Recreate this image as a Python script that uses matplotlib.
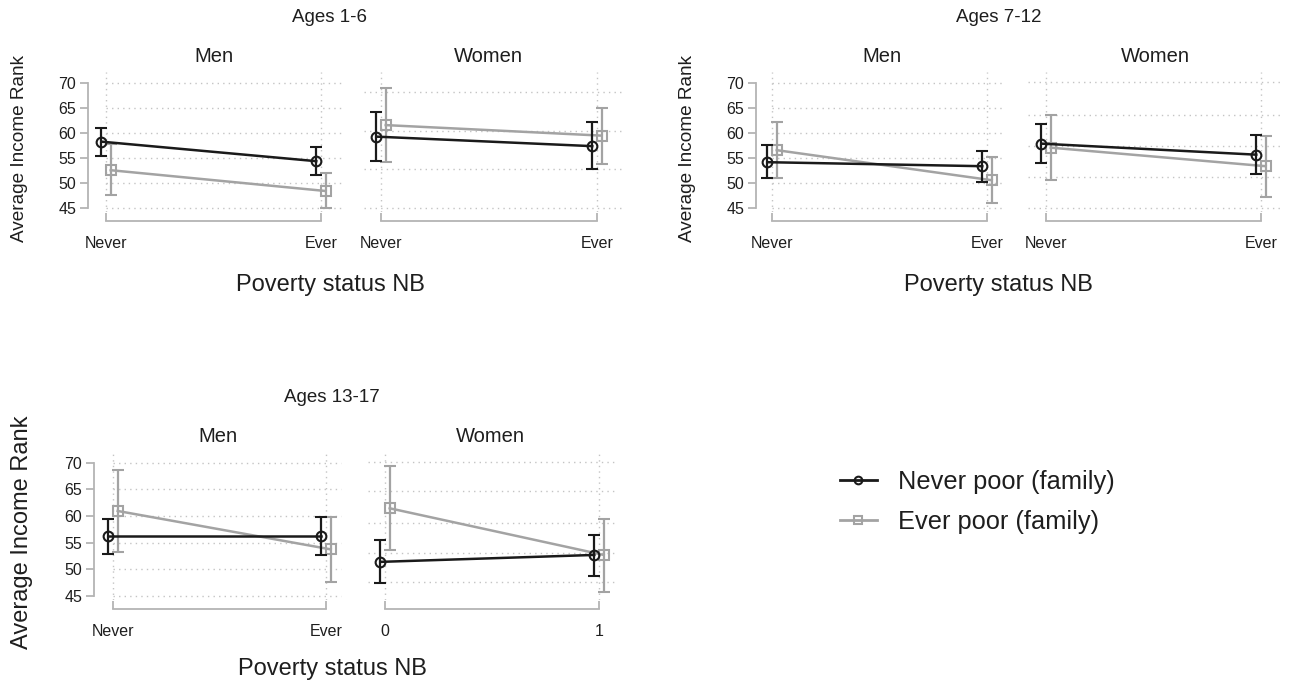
import matplotlib
matplotlib.use('Agg')
import matplotlib.pyplot as plt
from matplotlib.lines import Line2D

plt.rcParams['font.family'] = ['Liberation Sans', 'DejaVu Sans']

# values, one entry per age group, [Never, Ever]
age_groups = ['Ages 1-6', 'Ages 7-12', 'Ages 13-17']
never_men = [[58.3, 54.4], [54.2, 53.4], [56.2, 56.2]]
never_men_lo = [[55.4, 51.6], [51.0, 50.3], [52.9, 52.6]]
never_men_hi = [[61.1, 57.3], [57.6, 56.5], [59.4, 59.75]]
ever_men = [[52.6, 48.45], [56.6, 50.6], [60.95, 53.75]]
ever_men_lo = [[47.65, 45.0], [51.1, 46.0], [53.3, 47.7]]
ever_men_hi = [[57.8, 52.0], [62.3, 55.3], [68.6, 59.9]]
never_women = [[59.3, 57.4], [57.9, 55.7], [51.4, 52.7]]
never_women_lo = [[54.4, 52.85], [54.1, 51.8], [47.4, 48.75]]
never_women_hi = [[64.2, 62.2], [61.8, 59.7], [55.5, 56.45]]
ever_women = [[61.6, 59.5], [57.1, 53.4], [61.45, 52.7]]
ever_women_lo = [[54.2, 53.85], [50.6, 47.3], [53.6, 45.75]]
ever_women_hi = [[68.95, 65.1], [63.6, 59.4], [69.4, 59.45]]

men_ticklabels = ['Never', 'Ever']
women_ticklabels = [['Never', 'Ever'], ['Never', 'Ever'], ['0', '1']]
y_ticks = [45, 50, 55, 60, 65, 70]
# the women panels keep their own (unlabelled) grid
women_grid = [[45.1, 52.85, 60.5, 68.15],
              [45.0, 51.2, 57.4, 63.6, 70.2],
              [47.6, 53.1, 58.75, 64.6, 70.2]]
series_labels = ['Never poor (family)', 'Ever poor (family)']

BLACK = '#1a1a1a'
GRAY = '#a3a3a3'
SPINE = '#b4b4b4'
GRID = '#c4c4c4'
TEXT = '#1e1e1e'

W, H, DPI = 1295, 686, 100

# pixel layout of the three blocks
layout = [
    dict(top=72, bottom=212, y70=83, y45=208.3,
         men=(88, 342), women=(364, 622), men_x=(106, 321), women_x=(381, 597),
         title=(330, 18), sub_y=57, men_t=214, women_t=488,
         xlab=(330, 285), ylab=(20, 148), ylab_size=13.7),
    dict(top=72, bottom=212, y70=83, y45=208.3,
         men=(756, 1005), women=(1028, 1282), men_x=(772, 987), women_x=(1046, 1261),
         title=(999, 18), sub_y=57, men_t=882, women_t=1155,
         xlab=(998, 285), ylab=(688, 148), ylab_size=13.7),
    dict(top=452, bottom=600, y70=462.7, y45=596,
         men=(94, 341), women=(368, 616), men_x=(113, 326), women_x=(385, 599),
         title=(332, 397), sub_y=436, men_t=218, women_t=490,
         xlab=(332, 669), ylab=(22, 532), ylab_size=17),
]


def fbox(left, top, right, bottom):
    return [left / W, 1 - bottom / H, (right - left) / W, (bottom - top) / H]


def px2y(p, lay):
    return 45 + (lay['y45'] - p) / (lay['y45'] - lay['y70']) * 25


def draw_series(ax, mean, lo, hi, color, marker, dx, z):
    x = [0 + dx, 1 + dx]
    err = [[m - l for m, l in zip(mean, lo)], [h - m for m, h in zip(mean, hi)]]
    ax.errorbar(x, mean, yerr=err, color=color, lw=1.8, elinewidth=1.6,
                capsize=4, capthick=1.6, marker=marker, ms=7, mfc='none',
                mec=color, mew=1.5, zorder=z)


def make_panel(fig, lay, side, gi):
    left, right = lay[side]
    ax = fig.add_axes(fbox(left, lay['top'], right, lay['bottom']))
    p0, p1 = lay[side + '_x']
    ax.set_xlim((left - p0) / (p1 - p0), (right - p0) / (p1 - p0))
    ax.set_ylim(px2y(lay['bottom'], lay), px2y(lay['top'], lay))
    for s in ['top', 'right']:
        ax.spines[s].set_visible(False)

    # x axis drawn as a bracket below the plot
    ax.spines['bottom'].set_position(('outward', 6.3))
    ax.spines['bottom'].set_bounds(0, 1)
    ax.spines['bottom'].set_color(SPINE)
    ax.spines['bottom'].set_linewidth(1.3)
    ax.set_xticks([0, 1])
    ax.set_xticklabels(men_ticklabels if side == 'men' else women_ticklabels[gi])
    ax.tick_params(axis='x', direction='in', length=6, width=1.3, color=SPINE,
                   labelsize=11.5, labelcolor=TEXT, pad=11)

    if side == 'men':
        ax.spines['left'].set_bounds(45, 70)
        ax.spines['left'].set_color(SPINE)
        ax.spines['left'].set_linewidth(1.3)
        ax.set_yticks(y_ticks)
        ax.tick_params(axis='y', direction='out', length=6, width=1.3, color=SPINE,
                       labelsize=11.5, labelcolor=TEXT, pad=2.5)
        grid_y = y_ticks
    else:
        ax.spines['left'].set_visible(False)
        ax.set_yticks([])
        grid_y = women_grid[gi]

    x_lo, x_hi = ax.get_xlim()
    y_lo, y_hi = ax.get_ylim()
    for gy in grid_y:
        ax.plot([0 if side == 'men' else x_lo, x_hi], [gy, gy], color=GRID, lw=1,
                ls=(0, (1, 3)), zorder=0, clip_on=False)
    for gx in [0, 1]:
        ax.plot([gx, gx], [y_lo, y_hi], color=GRID, lw=1, ls=(0, (1, 3)), zorder=0)
    ax.patch.set_alpha(0)
    return ax


fig = plt.figure(figsize=(W / DPI, H / DPI), dpi=DPI)

for gi, lay in enumerate(layout):
    ax_m = make_panel(fig, lay, 'men', gi)
    draw_series(ax_m, ever_men[gi], ever_men_lo[gi], ever_men_hi[gi], GRAY, 's', 0.022, 3)
    draw_series(ax_m, never_men[gi], never_men_lo[gi], never_men_hi[gi], BLACK, 'o', -0.022, 4)

    ax_w = make_panel(fig, lay, 'women', gi)
    draw_series(ax_w, ever_women[gi], ever_women_lo[gi], ever_women_hi[gi], GRAY, 's', 0.022, 3)
    draw_series(ax_w, never_women[gi], never_women_lo[gi], never_women_hi[gi], BLACK, 'o', -0.022, 4)

    fig.text(lay['title'][0] / W, 1 - lay['title'][1] / H, age_groups[gi],
             ha='center', va='center', fontsize=13.5, color=TEXT)
    fig.text(lay['men_t'] / W, 1 - lay['sub_y'] / H, 'Men',
             ha='center', va='center', fontsize=14.5, color=TEXT)
    fig.text(lay['women_t'] / W, 1 - lay['sub_y'] / H, 'Women',
             ha='center', va='center', fontsize=14.5, color=TEXT)
    fig.text(lay['xlab'][0] / W, 1 - lay['xlab'][1] / H, 'Poverty status NB',
             ha='center', va='center', fontsize=17, color=TEXT)
    fig.text(lay['ylab'][0] / W, 1 - lay['ylab'][1] / H, 'Average Income Rank',
             ha='center', va='center', rotation=90, fontsize=lay['ylab_size'], color=TEXT)

handles = [
    Line2D([], [], color=BLACK, lw=2, marker='o', ms=5.5, mfc='none', mew=1.5),
    Line2D([], [], color=GRAY, lw=2, marker='s', ms=5.5, mfc='none', mew=1.5),
]
fig.legend(handles, series_labels, loc='center left',
           bbox_to_anchor=(840 / W, 1 - 502 / H), frameon=False, fontsize=18.3,
           handlelength=1.45, handletextpad=0.85, labelspacing=0.6,
           borderpad=0, borderaxespad=0, labelcolor=TEXT)

fig.savefig('out.png', dpi=DPI, facecolor='white')
